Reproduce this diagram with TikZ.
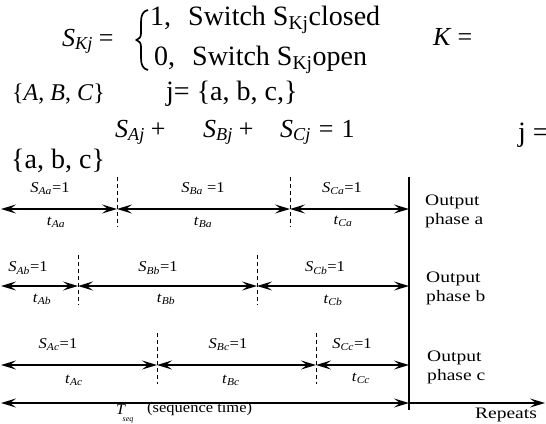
\documentclass[tikz,border=0pt]{standalone}
\usepackage{fontspec}
\setmainfont{Liberation Serif}
\usetikzlibrary{arrows.meta}
\newcommand\swlab[1]{\textit{S}\textsubscript{\textit{#1}}=1}
\newcommand\tlab[1]{\textit{t}\textsubscript{\textit{#1}}}
\newcommand\mv[2]{\textit{#1}\textsubscript{\textit{#2}}}
\tikzset{
  big/.style={inner sep=0pt, font=\fontsize{28}{34}\selectfont},
  mth/.style={inner sep=0pt, font=\fontsize{26}{31}\selectfont},
  lab/.style={inner sep=0pt, font=\fontsize{15}{18}\selectfont, xscale=1.1},
  outp/.style={inner sep=0pt, font=\fontsize{16}{19}\selectfont, xscale=1.22, align=left, anchor=west},
  tip/.tip={Stealth[length=15pt,width=9pt,inset=6pt]},
  dbl/.style={line width=1.5pt, tip-tip},
  sgl/.style={line width=1.5pt, -tip},
  divider/.style={line width=1pt, dash pattern=on 4pt off 3pt},
}
\begin{document}
\begin{tikzpicture}[x=1pt,y=-1pt]
\useasboundingbox (0,0) rectangle (546,423);
% ---- top equations
\node[mth, anchor=base west] (skj) at (62,46) {\mv{S}{Kj}\hspace{6pt}=};
\draw[line width=1.7pt] (148,10) .. controls (143,11) and (141,15) .. (141,22) -- (141,33)
  .. controls (141,37) and (139.5,39) .. (136.5,40) .. controls (139.5,41) and (141,43) .. (141,47)
  -- (141,58) .. controls (141,65) and (143,69) .. (148,70);
\node[big, anchor=base west] (r1) at (150,25) {1,\hspace{17pt}Switch S\textsubscript{Kj}closed};
\node[big, anchor=base west] (r2) at (154,65) {0,\hspace{17pt}Switch S\textsubscript{Kj}open};
\node[mth, anchor=base west] (kk) at (433,45) {\textit{K}\hspace{6pt}=};
\node[mth, anchor=base west, font=\fontsize{24}{29}\selectfont] (abc) at (12,100) {\{\textit{A}, \textit{B}, \textit{C}\}};
\node[big, anchor=base west] (jj) at (166,100) {j= \{a, b, c,\}};
\node[mth, anchor=base west] (sa) at (115,137) {\mv{S}{Aj}\hspace{6pt}+};
\node[mth, anchor=base west] (sb) at (203,137) {\mv{S}{Bj}\hspace{6pt}+};
\node[mth, anchor=base west] (sc) at (280,137) {\mv{S}{Cj}\hspace{8pt}=\hspace{8pt}1};
\node[big, anchor=base west] (jr) at (518,141) {j =};
\node[big, anchor=base west] (abc2) at (11,168) {\{a, b, c\}};
% ---- vertical line
\coordinate (vt) at (409,177);
\coordinate (vb) at (409,410);
\draw[line width=1.4pt] (vt) -- (vb);
% ---- row a
\coordinate (a0) at (1,209); \coordinate (a1) at (117,209);
\coordinate (a2) at (290,209); \coordinate (a3) at (409,209);
\draw[dbl] (a0) -- (a1); \draw[dbl] (a1) -- (a2); \draw[dbl] (a2) -- (a3);
\coordinate (da1t) at (117,177); \coordinate (da1b) at (117,227);
\coordinate (da2t) at (290,177); \coordinate (da2b) at (290,227);
\draw[divider] (da1t) -- (da1b); \draw[divider] (da2t) -- (da2b);
\node[lab] (saa) at (50,189) {\swlab{Aa}};
\node[lab] (sba) at (203,189) {\textit{S}\textsubscript{\textit{Ba}} =1};
\node[lab] (sca) at (342,189) {\swlab{Ca}};
\node[lab] (taa) at (56,222) {\tlab{Aa}};
\node[lab] (tba) at (203,222) {\tlab{Ba}};
\node[lab] (tca) at (343,221) {\tlab{Ca}};
\node[outp] (oa) at (425,211) {Output\\phase a};
% ---- row b
\coordinate (b0) at (1,286); \coordinate (b1) at (78,286);
\coordinate (b2) at (257,286); \coordinate (b3) at (409,286);
\draw[dbl] (b0) -- (b1); \draw[dbl] (b1) -- (b2); \draw[dbl] (b2) -- (b3);
\coordinate (db1t) at (78,255); \coordinate (db1b) at (78,305);
\coordinate (db2t) at (257,255); \coordinate (db2b) at (257,305);
\draw[divider] (db1t) -- (db1b); \draw[divider] (db2t) -- (db2b);
\node[lab] (sab) at (28,268) {\swlab{Ab}};
\node[lab] (sbb) at (158,268) {\swlab{Bb}};
\node[lab] (scb) at (325,268) {\swlab{Cb}};
\node[lab] (tab) at (42,299) {\tlab{Ab}};
\node[lab] (tbb) at (166,299) {\tlab{Bb}};
\node[lab] (tcb) at (333,300) {\tlab{Cb}};
\node[outp] (ob) at (426,288) {Output\\phase b};
% ---- row c
\coordinate (c0) at (1,365); \coordinate (c1) at (157,365);
\coordinate (c2) at (316,365); \coordinate (c3) at (409,365);
\draw[dbl] (c0) -- (c1); \draw[dbl] (c1) -- (c2); \draw[dbl] (c2) -- (c3);
\coordinate (dc1t) at (157,333); \coordinate (dc1b) at (157,384);
\coordinate (dc2t) at (316,333); \coordinate (dc2b) at (316,384);
\draw[divider] (dc1t) -- (dc1b); \draw[divider] (dc2t) -- (dc2b);
\node[lab] (sac) at (58,345) {\swlab{Ac}};
\node[lab] (sbc) at (228,345) {\swlab{Bc}};
\node[lab] (scc) at (352,345) {\swlab{Cc}};
\node[lab] (tac) at (74,380) {\tlab{Ac}};
\node[lab] (tbc) at (231,380) {\tlab{Bc}};
\node[lab] (tcc) at (361,378) {\tlab{Cc}};
\node[outp] (oc) at (427,367) {Output\\phase c};
% ---- bottom
\coordinate (t0) at (1,403); \coordinate (t1) at (409,403); \coordinate (t2) at (545,403);
\draw[dbl] (t0) -- (t1);
\draw[sgl] (t1) -- (t2);
\node[lab] (tseq) at (121,410) {\textit{T}};
\node[inner sep=0pt, font=\fontsize{8}{9}\selectfont\itshape] (seqs) at (128,420) {seq};
\node[lab, anchor=west] (seqt) at (147,409) {(sequence time)};
\node[outp, anchor=center] (rep) at (506,415) {Repeats};
\end{tikzpicture}
\end{document}
